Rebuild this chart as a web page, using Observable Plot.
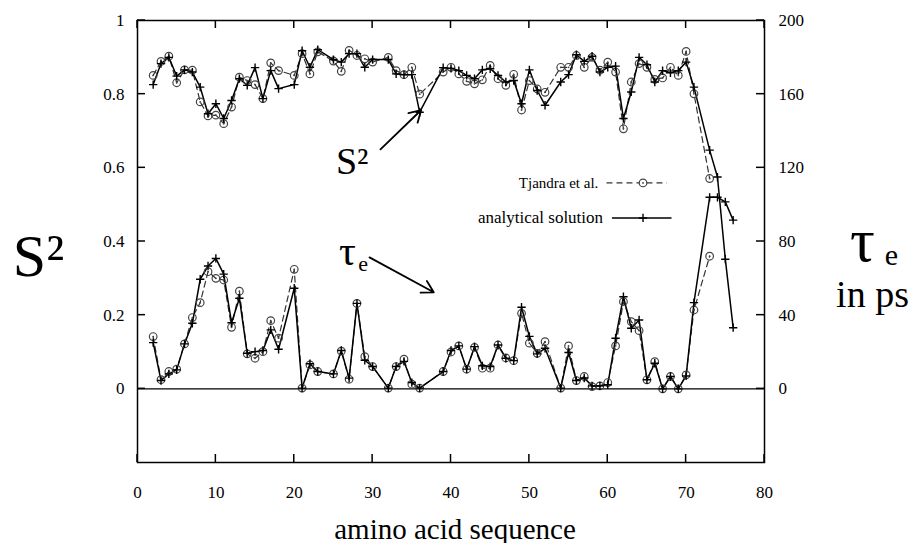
<!DOCTYPE html>
<html>
<head>
<meta charset="utf-8">
<script src="https://cdn.jsdelivr.net/npm/d3@7"></script>
<script src="https://cdn.jsdelivr.net/npm/@observablehq/plot@0.6"></script>
<style>
  html, body { margin: 0; padding: 0; background: #fff; }
</style>
</head>
<body>
<div id="chart"></div>
<script>
// Residue numbers with data (gaps: 19, 24, 31, 37, 38, 53, 72)
const residues = [2,3,4,5,6,7,8,9,10,11,12,13,14,15,16,17,18,20,21,22,23,25,26,27,28,29,30,32,33,34,35,36,39,40,41,42,43,44,45,46,47,48,49,50,51,52,54,55,56,57,58,59,60,61,62,63,64,65,66,67,68,69,70,71,73,74,75,76];

// analytical solution: order parameter S^2
const s2Analytical = [0.826,0.883,0.900,0.849,0.866,0.860,0.819,0.747,0.774,0.734,0.783,0.842,0.824,0.872,0.788,0.864,0.815,0.826,0.918,0.873,0.921,0.894,0.887,0.910,0.910,0.873,0.894,0.894,0.855,0.853,0.853,0.751,0.872,0.870,0.864,0.851,0.842,0.866,0.869,0.851,0.833,0.837,0.774,0.866,0.810,0.770,0.833,0.853,0.907,0.889,0.903,0.860,0.873,0.876,0.734,0.806,0.900,0.880,0.833,0.864,0.858,0.864,0.887,0.819,0.648,0.575,0.352,0.166];

// analytical solution: tau_e in ps
const tauAnalytical = [25.1,4.5,8.1,10.3,24.4,35.6,59.5,66.7,70.8,62.3,35.9,49.2,19.3,20.2,20.8,32.0,21.5,54.6,0.4,13.6,9.4,8.1,20.8,5.8,46.4,15.5,12.1,0.4,12.1,14.9,3.4,0.4,9.4,20.8,23.3,10.7,22.9,12.5,12.1,23.8,16.6,15.3,44.3,28.5,19.0,22.0,0.4,19.7,4.5,5.9,1.6,1.6,2.2,27.5,50.0,32.9,37.4,4.9,13.9,0.0,6.7,0.0,7.0,46.8,104.0,104.0,101.5,91.6];

// Tjandra et al. (same residues, up to residue 73)
const s2Tjandra = [0.851,0.889,0.903,0.831,0.866,0.865,0.779,0.741,0.743,0.720,0.765,0.846,0.837,0.826,0.788,0.885,0.864,0.851,0.910,0.855,0.915,0.890,0.862,0.919,0.905,0.896,0.887,0.900,0.864,0.853,0.873,0.800,0.860,0.873,0.855,0.835,0.828,0.839,0.878,0.842,0.824,0.854,0.757,0.837,0.814,0.805,0.873,0.873,0.905,0.873,0.900,0.865,0.887,0.860,0.706,0.833,0.883,0.873,0.840,0.844,0.873,0.851,0.916,0.801,0.571];
const tauTjandra = [28.4,5.0,9.4,10.7,24.4,38.7,46.8,63.6,60.0,59.1,33.4,53.0,19.0,16.6,20.2,37.0,27.5,64.9,0.4,13.0,9.4,8.1,20.5,5.2,46.4,17.5,12.1,0.4,12.1,16.1,2.5,0.4,9.4,20.0,23.3,10.7,22.5,11.2,11.2,23.8,16.8,15.3,41.0,24.8,19.3,25.6,0.4,23.3,4.5,6.7,1.2,1.6,3.4,23.3,47.3,36.5,31.6,4.9,14.8,0.0,6.7,0.0,7.6,42.8,72.0];

const xTicks = [0,10,20,30,40,50,60,70,80];
const s2Ticks = [0,0.2,0.4,0.6,0.8,1];
const tauMax = 200; // right axis: 0..200 ps spans S^2 0..1

// annotation anchors (data units)
const s2Note = [{x: 27.4, y: 0.615, label: "S²"}];
const s2Arrow = [{x1: 31.0, y1: 0.650, x2: 36.2, y2: 0.757}];
const tauNote = [{x: 26.8, y: 0.372, label: "τ"}];
const tauNoteSub = [{x: 28.8, y: 0.338, label: "e"}];
const tauArrow = [{x1: 29.6, y1: 0.357, x2: 37.8, y2: 0.262}];
const legendItems = [
  {label: "Tjandra et al.", x: 58.8, y: 0.559, x1: 59.9, x2: 67.6, xm: 64.5, size: 15},
  {label: "analytical solution", x: 59.4, y: 0.464, x1: 60.6, x2: 68.2, xm: 64.5, size: 17}
];

const an = residues.map((r, i) => ({x: r, s2: s2Analytical[i], tau: tauAnalytical[i]}));
const tj = s2Tjandra.map((v, i) => ({x: residues[i], s2: v, tau: tauTjandra[i]}));
const tauY = d => d.tau / tauMax;

const serif = "'Liberation Serif', 'Times New Roman', Times, serif";

const W = 916, H = 543, mL = 137, mR = 152, mT = 20, mB = 81;
const xDomain = [0, 80], yDomain = [-0.2, 1];

const chart = Plot.plot({
  width: W,
  height: H,
  marginLeft: mL,
  marginRight: mR,
  marginTop: mT,
  marginBottom: mB,
  style: {fontFamily: serif, fontSize: "17px", background: "white", color: "black", overflow: "visible"},
  x: {domain: xDomain},
  y: {domain: yDomain},
  marks: [
    Plot.ruleY([0], {stroke: "black", strokeWidth: 1.3}),
    // Tjandra dashed lines
    Plot.lineY(tj, {x: "x", y: "s2", stroke: "#333", strokeWidth: 1.2, strokeDasharray: "6,4"}),
    Plot.lineY(tj, {x: "x", y: tauY, stroke: "#333", strokeWidth: 1.2, strokeDasharray: "6,4"}),
    // analytical solid lines
    Plot.lineY(an, {x: "x", y: "s2", stroke: "black", strokeWidth: 1.5}),
    Plot.lineY(an, {x: "x", y: tauY, stroke: "black", strokeWidth: 1.5}),
    // markers
    Plot.dot(tj, {x: "x", y: "s2", r: 3.8, stroke: "#444", strokeWidth: 1.2, fill: "none"}),
    Plot.dot(tj, {x: "x", y: tauY, r: 3.8, stroke: "#444", strokeWidth: 1.2, fill: "none"}),
    Plot.dot(tj, {x: "x", y: "s2", r: 0.9, fill: "#444"}),
    Plot.dot(tj, {x: "x", y: tauY, r: 0.9, fill: "#444"}),
    Plot.dot(an, {x: "x", y: "s2", symbol: "plus", r: 2.8, stroke: "black", strokeWidth: 1.4}),
    Plot.dot(an, {x: "x", y: tauY, symbol: "plus", r: 2.8, stroke: "black", strokeWidth: 1.4}),
    // tick labels
    Plot.axisX(xTicks, {anchor: "bottom", tickSize: 0, tickPadding: 23, label: null, fontSize: 17}),
    Plot.axisY(s2Ticks, {anchor: "left", tickSize: 0, tickPadding: 13, label: null, fontSize: 17,
      tickFormat: d => String(d)}),
    Plot.axisY(s2Ticks, {anchor: "right", tickSize: 0, tickPadding: 14, label: null, fontSize: 17,
      tickFormat: d => String(Math.round(d * tauMax))}),
    // axis titles
    Plot.text(["amino acid sequence"], {frameAnchor: "bottom", textAnchor: "middle", lineAnchor: "bottom", dx: 4, dy: 76, fontSize: 29, text: d => d}),
    Plot.text(["S²"], {frameAnchor: "left", textAnchor: "middle", dx: -99, dy: 15, fontSize: 60, text: d => d}),
    Plot.text(["τ"], {frameAnchor: "right", textAnchor: "middle", dx: 98, dy: 0, fontSize: 62, text: d => d}),
    Plot.text(["e"], {frameAnchor: "right", textAnchor: "middle", dx: 127, dy: 14, fontSize: 30, text: d => d}),
    Plot.text(["in ps"], {frameAnchor: "right", textAnchor: "middle", dx: 108, dy: 53, fontSize: 38, text: d => d}),
    // annotations
    Plot.text(s2Note, {x: "x", y: "y", text: "label", fontSize: 38}),
    Plot.arrow(s2Arrow, {x1: "x1", y1: "y1", x2: "x2", y2: "y2", stroke: "black", strokeWidth: 1.8, headLength: 11}),
    Plot.text(tauNote, {x: "x", y: "y", text: "label", fontSize: 42}),
    Plot.text(tauNoteSub, {x: "x", y: "y", text: "label", fontSize: 22}),
    Plot.arrow(tauArrow, {x1: "x1", y1: "y1", x2: "x2", y2: "y2", stroke: "black", strokeWidth: 1.8, headLength: 11}),
    // legend
    Plot.text(legendItems, {x: "x", y: "y", text: "label", textAnchor: "end", fontSize: "size"}),
    Plot.ruleY(legendItems.slice(0, 1), {x1: "x1", x2: "x2", y: "y", stroke: "#333", strokeWidth: 1.2, strokeDasharray: "6,4"}),
    Plot.ruleY(legendItems.slice(1), {x1: "x1", x2: "x2", y: "y", stroke: "black", strokeWidth: 1.5}),
    Plot.dot(legendItems.slice(0, 1), {x: "xm", y: "y", r: 3.8, stroke: "#444", strokeWidth: 1.2, fill: "white"}),
    Plot.dot(legendItems.slice(0, 1), {x: "xm", y: "y", r: 0.9, fill: "#444"}),
    Plot.dot(legendItems.slice(1), {x: "xm", y: "y", symbol: "plus", r: 2.8, stroke: "black", strokeWidth: 1.4}),
    Plot.frame({stroke: "black", strokeWidth: 1.5})
  ]
});

// inward ticks on all four sides, positioned with the chart's own scales
const sx = chart.scale("x"), sy = chart.scale("y");
const TL = 8;
const g = d3.select(chart).append("g").attr("class", "inward-ticks")
  .attr("stroke", "black").attr("stroke-width", 1.5);
const [yB, yT] = [sy.apply(yDomain[0]), sy.apply(yDomain[1])];
const [xL, xR] = [sx.apply(xDomain[0]), sx.apply(xDomain[1])];
for (const t of xTicks) {
  const px = sx.apply(t);
  g.append("line").attr("x1", px).attr("x2", px).attr("y1", yB).attr("y2", yB - TL);
  g.append("line").attr("x1", px).attr("x2", px).attr("y1", yT).attr("y2", yT + TL);
}
for (const t of s2Ticks) {
  const py = sy.apply(t);
  g.append("line").attr("x1", xL).attr("x2", xL + TL).attr("y1", py).attr("y2", py);
  g.append("line").attr("x1", xR).attr("x2", xR - TL).attr("y1", py).attr("y2", py);
}

document.getElementById("chart").appendChild(chart);
</script>
</body>
</html>
